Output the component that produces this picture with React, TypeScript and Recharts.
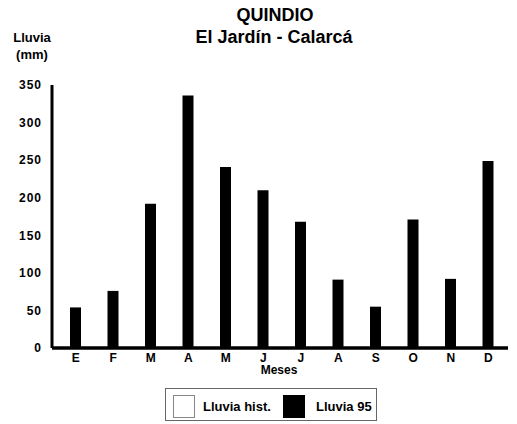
import { BarChart, Bar, XAxis, YAxis, Legend } from "recharts";

const months = ["E", "F", "M", "A", "M", "J", "J", "A", "S", "O", "N", "D"];
const lluvia95 = [54, 76, 192, 336, 241, 210, 168, 91, 55, 171, 92, 249];
const yTicks = [0, 50, 100, 150, 200, 250, 300, 350];
const legendNames = ["Lluvia hist.", "Lluvia 95"];
const legendColors = ["#ffffff", "#000000"];

const data = months.map((m, i) => ({ mes: m, lluvia95: lluvia95[i] }));

const font = "'Liberation Sans', Arial, sans-serif";

const LegendBox = () => (
  <div
    style={{
      position: "relative",
      width: 212,
      height: 33,
      border: "1px solid #666",
      boxSizing: "border-box",
      fontFamily: font,
      fontWeight: "bold",
      fontSize: 13,
      color: "#000",
    }}
  >
    {legendNames.map((name, i) => (
      <div key={name}>
        <div
          style={{
            position: "absolute",
            left: i === 0 ? 7 : 117,
            top: 6,
            width: 22,
            height: 23,
            background: legendColors[i],
            border: i === 0 ? "1px solid #888" : "none",
            boxSizing: "border-box",
          }}
        />
        <div
          style={{
            position: "absolute",
            left: i === 0 ? 37 : 150,
            top: 10,
            whiteSpace: "nowrap",
          }}
        >
          {name}
        </div>
      </div>
    ))}
  </div>
);

export default function App() {
  return (
    <div style={{ position: "absolute", left: 0, top: 0, width: 517, height: 424, background: "#fff" }}>
      <BarChart
        width={517}
        height={424}
        data={data}
        margin={{ top: 85, right: 9, bottom: 0, left: 0 }}
        barCategoryGap={0}
      >
        <XAxis
          dataKey="mes"
          height={43}
          stroke="#000"
          strokeWidth={3.5}
          tickLine={false}
          tickSize={3}
          padding={{ left: 5, right: 1 }}
          interval={0}
          tick={{ fill: "#000", fontSize: 12, fontWeight: "bold", fontFamily: font }}
        />
        <YAxis
          width={52}
          domain={[0, 350]}
          ticks={yTicks}
          stroke="#000"
          strokeWidth={3}
          tickLine={false}
          tickSize={8}
          interval={0}
          tick={{ fill: "#000", fontSize: 12, fontWeight: "bold", fontFamily: font, letterSpacing: 1 }}
        />
        <Legend
          content={() => <LegendBox />}
          wrapperStyle={{ position: "absolute", left: 165, top: 388, width: 212, height: 33 }}
        />
        <Bar dataKey="lluvia95" name="Lluvia 95" fill="#000" barSize={11} isAnimationActive={false} />
      </BarChart>
      <svg
        width={517}
        height={424}
        style={{ position: "absolute", left: 0, top: 0, pointerEvents: "none" }}
        fontFamily={font}
        fontWeight="bold"
      >
        <text x={275} y={21} fontSize={18} textAnchor="middle" fill="#000">QUINDIO</text>
        <text x={274} y={43} fontSize={18} textAnchor="middle" fill="#000">El Jardín - Calarcá</text>
        <text x={32} y={42} fontSize={13} textAnchor="middle" fill="#000">Lluvia</text>
        <text x={32} y={59} fontSize={13} textAnchor="middle" fill="#000">(mm)</text>
        <text x={279} y={374} fontSize={12} textAnchor="middle" fill="#000">Meses</text>
      </svg>
    </div>
  );
}
